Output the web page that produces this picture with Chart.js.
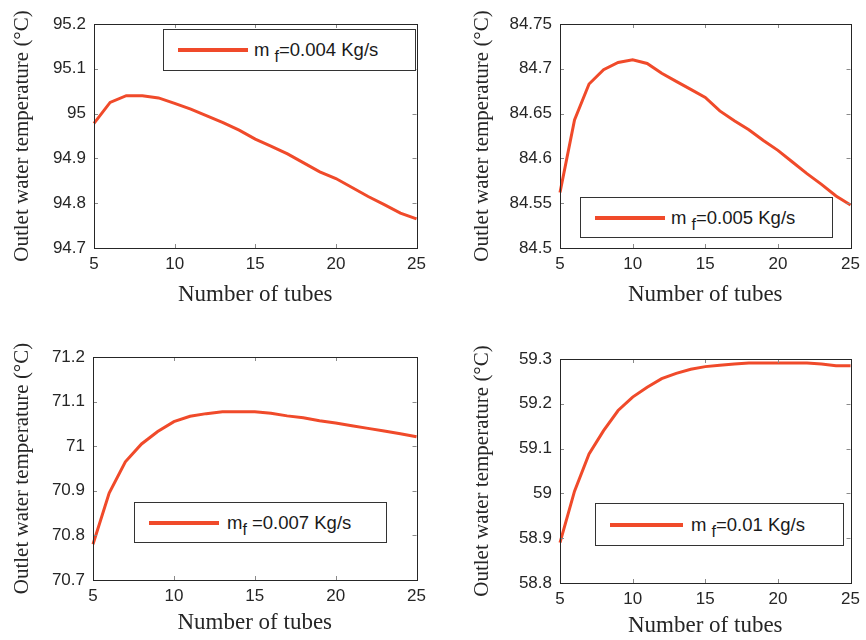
<!DOCTYPE html>
<html>
<head>
<meta charset="utf-8">
<script src="https://cdn.jsdelivr.net/npm/chart.js@4"></script>
<style>
  body { margin: 0; background: #fff; }
  #wrap { position: relative; width: 866px; height: 640px; overflow: hidden; }
  .panel { position: absolute; }
  .legend {
    position: absolute; border: 1px solid #333; background: #fff; box-sizing: border-box;
    font-family: "Liberation Sans", Arial, sans-serif; font-size: 18.5px; color: #1a1a1a;
    display: flex; align-items: center;
  }
  .legend .swatch { display: inline-block; height: 4px; background: #f04a2a; }
  .legend sub { font-size: 16px; position: relative; top: 6px; vertical-align: baseline; }
</style>
</head>
<body>
<div id="wrap">
  <canvas id="c1" class="panel" style="left:0;top:0"></canvas>
  <canvas id="c2" class="panel" style="left:436px;top:0"></canvas>
  <canvas id="c3" class="panel" style="left:0;top:320px"></canvas>
  <canvas id="c4" class="panel" style="left:436px;top:320px"></canvas>

  <div class="legend" style="left:163px;top:29px;width:253px;height:42px">
    <span class="swatch" style="margin-left:14px;width:70px"></span>
    <span style="margin-left:6px">m <sub>f</sub>=0.004 Kg/s</span>
  </div>
  <div class="legend" style="left:580px;top:197px;width:253px;height:41px">
    <span class="swatch" style="margin-left:14px;width:70px"></span>
    <span style="margin-left:6px">m <sub>f</sub>=0.005 Kg/s</span>
  </div>
  <div class="legend" style="left:134px;top:502px;width:253px;height:41px">
    <span class="swatch" style="margin-left:14px;width:70px"></span>
    <span style="margin-left:8px">m<sub>f</sub> =0.007 Kg/s</span>
  </div>
  <div class="legend" style="left:595px;top:503px;width:249px;height:43px">
    <span class="swatch" style="margin-left:14px;width:73px"></span>
    <span style="margin-left:8px">m <sub>f</sub>=0.01 Kg/s</span>
  </div>
</div>

<script>
// number of tubes (x axis)
const tubes = [5, 6, 7, 8, 9, 10, 11, 12, 13, 14, 15, 16, 17, 18, 19, 20, 21, 22, 23, 24, 25];

// outlet water temperature (°C) for each flow rate
const temp004 = [94.978, 95.025, 95.04, 95.04, 95.035, 95.023, 95.01, 94.995, 94.98, 94.963, 94.943,
                 94.927, 94.91, 94.89, 94.87, 94.855, 94.835, 94.815, 94.797, 94.778, 94.765];
const temp005 = [84.562, 84.643, 84.683, 84.699, 84.707, 84.71, 84.706, 84.695, 84.686, 84.677, 84.668,
                 84.653, 84.642, 84.632, 84.62, 84.609, 84.596, 84.583, 84.571, 84.558, 84.548];
const temp007 = [70.78, 70.895, 70.965, 71.005, 71.033, 71.055, 71.067, 71.073, 71.077, 71.077, 71.077,
                 71.074, 71.068, 71.064, 71.057, 71.052, 71.046, 71.04, 71.034, 71.028, 71.021];
const temp010 = [58.89, 59.005, 59.088, 59.14, 59.185, 59.215, 59.237, 59.256, 59.268, 59.277, 59.283,
                 59.286, 59.289, 59.291, 59.291, 59.291, 59.291, 59.291, 59.289, 59.285, 59.285];

// axis ranges / tick steps
const xRange = [5, 25, 5];
const yRange004 = [94.7, 95.2, 0.1];
const yRange005 = [84.5, 84.75, 0.05];
const yRange007 = [70.7, 71.2, 0.1];
const yRange010 = [58.8, 59.3, 0.1];

const lineColor = '#f04a2a';
const axisColor = '#262626';

// draws the matlab style box with inward ticks
const boxPlugin = {
    id: 'box',
    afterDatasetsDraw(chart) {
        const {ctx, chartArea: a, scales} = chart;
        ctx.save();
        ctx.strokeStyle = '#8a8a8a';
        ctx.lineWidth = 1;
        ctx.beginPath();
        scales.x.ticks.forEach(t => {
            const px = Math.round(scales.x.getPixelForValue(t.value)) + 0.5;
            ctx.moveTo(px, a.bottom); ctx.lineTo(px, a.bottom - 4);
            ctx.moveTo(px, a.top); ctx.lineTo(px, a.top + 4);
        });
        scales.y.ticks.forEach(t => {
            const py = Math.round(scales.y.getPixelForValue(t.value)) + 0.5;
            ctx.moveTo(a.left, py); ctx.lineTo(a.left + 4, py);
            ctx.moveTo(a.right, py); ctx.lineTo(a.right - 4, py);
        });
        ctx.stroke();
        ctx.strokeStyle = axisColor;
        ctx.strokeRect(Math.round(a.left) + 0.5, Math.round(a.top) + 0.5,
                       Math.round(a.right - a.left), Math.round(a.bottom - a.top));
        ctx.restore();
    }
};

function makePanel(id, w, h, values, yRange, lay) {
    const canvas = document.getElementById(id);
    canvas.width = w; canvas.height = h;
    canvas.style.width = w + 'px'; canvas.style.height = h + 'px';
    return new Chart(canvas, {
        type: 'line',
        data: {
            labels: tubes,
            datasets: [{
                data: values,
                borderColor: lineColor,
                borderWidth: 3,
                pointRadius: 0,
                tension: 0,
                clip: 4
            }]
        },
        options: {
            responsive: false,
            animation: false,
            layout: { padding: { top: lay.top, right: lay.right, left: 0, bottom: 0 } },
            plugins: { legend: { display: false }, tooltip: { enabled: false } },
            scales: {
                x: {
                    type: 'linear',
                    min: xRange[0], max: xRange[1],
                    grid: { display: false, drawTicks: false },
                    border: { display: false },
                    ticks: {
                        stepSize: xRange[2], padding: 6, maxRotation: 0,
                        color: axisColor,
                        font: { family: '"Liberation Sans", Arial, sans-serif', size: 17 }
                    },
                    title: {
                        display: true, text: 'Number of tubes', color: axisColor,
                        font: { family: '"Liberation Serif", "Times New Roman", serif', size: 23 },
                        padding: { top: 0, bottom: lay.xTitlePad }
                    },
                    afterFit(s) { s.height = lay.xh; }
                },
                y: {
                    min: yRange[0], max: yRange[1],
                    grid: { display: false, drawTicks: false },
                    border: { display: false },
                    ticks: {
                        stepSize: yRange[2], padding: 8, color: axisColor,
                        font: { family: '"Liberation Sans", Arial, sans-serif', size: 17 },
                        callback: v => String(+v.toFixed(3))
                    },
                    title: {
                        display: true, text: 'Outlet water temperature (°C)', color: axisColor,
                        font: { family: '"Liberation Serif", "Times New Roman", serif', size: 21 },
                        padding: { top: lay.yTitlePad, bottom: 0 }
                    },
                    afterFit(s) { s.width = lay.yw; }
                }
            }
        },
        plugins: [boxPlugin]
    });
}

makePanel('c1', 432, 315, temp004, yRange004, { top: 24, right: 10, xh: 67, yw: 94, xTitlePad: 6, yTitlePad: 10 });
makePanel('c2', 430, 315, temp005, yRange005, { top: 24, right: 12, xh: 67, yw: 124, xTitlePad: 6, yTitlePad: 34 });
makePanel('c3', 432, 320, temp007, yRange007, { top: 37, right: 11, xh: 60, yw: 93, xTitlePad: 3, yTitlePad: 10 });
makePanel('c4', 430, 320, temp010, yRange010, { top: 39, right: 11, xh: 57, yw: 124, xTitlePad: 0, yTitlePad: 34 });
</script>
</body>
</html>
